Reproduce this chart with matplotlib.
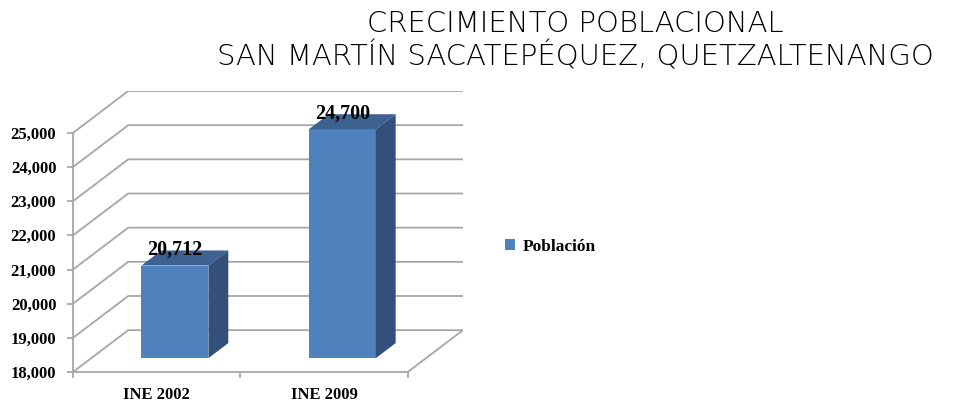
import matplotlib
matplotlib.use("Agg")
import matplotlib.pyplot as plt
from matplotlib.patches import Patch
from matplotlib.ticker import FuncFormatter

# datos
categorias = ['INE 2002', 'INE 2009']
poblacion = [20712, 24700]
serie = 'Población'
y_ticks = [18000, 19000, 20000, 21000, 22000, 23000, 24000, 25000]
titulo = 'CRECIMIENTO POBLACIONAL\nSAN MARTÍN SACATEPÉQUEZ, QUETZALTENANGO'

# colores
c_frente = '#4F81BD'
c_lado = '#34507A'
c_arriba = '#3D6292'
c_grid = '#A6A6A6'

# pseudo 3d: desplazamiento por profundidad (x en categorias, y en valor)
DX = 0.33
DY = 1225
BW = 0.40
D0, D1 = 0.33, 0.69
base = y_ticks[0]

def proj(x, v, d):
    return x + d * DX, v + d * DY

def poly(ax, pts, color):
    xs, ys = zip(*[proj(*p) for p in pts])
    ax.fill(xs, ys, color=color, lw=0, zorder=3)

serif = 'Liberation Serif'

fig = plt.figure(figsize=(9.62, 4.04), dpi=100)
ax = fig.add_axes([73 / 962, 32 / 404, 390 / 962, 281 / 404])
n = len(categorias)
ax.set_xlim(0, n + DX)
ax.set_ylim(base, y_ticks[-1] + DY)

# paredes y piso
for v in y_ticks:
    x0, y0 = proj(0, v, 0)
    x1, y1 = proj(0, v, 1)
    x2, y2 = proj(n, v, 1)
    ax.plot([x0, x1, x2], [y0, y1, y2], color=c_grid, lw=1.3, zorder=1,
            solid_capstyle='butt')
xa, ya = proj(n, base, 0)
xb, yb = proj(n, base, 1)
ax.plot([xa, xb], [ya, yb], color=c_grid, lw=1.3, zorder=1)

# barras
for i, val in enumerate(poblacion):
    x0 = i + 0.5 - BW / 2
    x1 = i + 0.5 + BW / 2
    poly(ax, [(x0, base, D0), (x1, base, D0), (x1, val, D0), (x0, val, D0)], c_frente)
    poly(ax, [(x1, base, D0), (x1, base, D1), (x1, val, D1), (x1, val, D0)], c_lado)
    poly(ax, [(x0, val, D0), (x1, val, D0), (x1, val, D1), (x0, val, D1)], c_arriba)
    tx, ty = proj(i + 0.5, val, D0)
    ax.annotate(f'{val:,}', (tx, ty), xytext=(0, 8), textcoords='offset points',
                ha='center', va='baseline', fontsize=14.5, fontweight='bold',
                family=serif, zorder=4)

# ejes
for s in ['top', 'right']:
    ax.spines[s].set_visible(False)
ax.spines['left'].set_bounds(base, y_ticks[-1])
ax.spines['bottom'].set_bounds(0, n)
for s in ['left', 'bottom']:
    ax.spines[s].set_color(c_grid)
    ax.spines[s].set_linewidth(1.3)

ax.set_yticks(y_ticks)
ax.yaxis.set_major_formatter(FuncFormatter(lambda v, p: f'{int(v):,}'))
ax.set_xticks(range(n + 1))
ax.set_xticklabels([])
ax.set_xticks([i + 0.5 for i in range(n)], minor=True)
ax.set_xticklabels(categorias, minor=True)
ax.tick_params(axis='x', which='minor', length=0, pad=11)
ax.tick_params(axis='both', which='major', length=4, width=1.3, color=c_grid,
               direction='out')
ax.tick_params(axis='y', pad=8)
for lab in ax.get_yticklabels() + ax.get_xticklabels(minor=True):
    lab.set_family(serif)
    lab.set_fontweight('bold')
    lab.set_fontsize(12)

ax.legend(handles=[Patch(facecolor=c_frente)], labels=[serie],
          loc='center left', bbox_to_anchor=(496 / 962, 157 / 404),
          bbox_transform=fig.transFigure, frameon=False, borderpad=0,
          handlelength=0.6, handleheight=0.6, handletextpad=0.45,
          prop={'family': serif, 'weight': 'bold', 'size': 12.5})

fig.text(575 / 962, 0.90, titulo, ha='center', va='center', fontsize=21,
         family='DejaVu Sans', fontweight='light', linespacing=1.15)

fig.savefig('out.png', dpi=100)
